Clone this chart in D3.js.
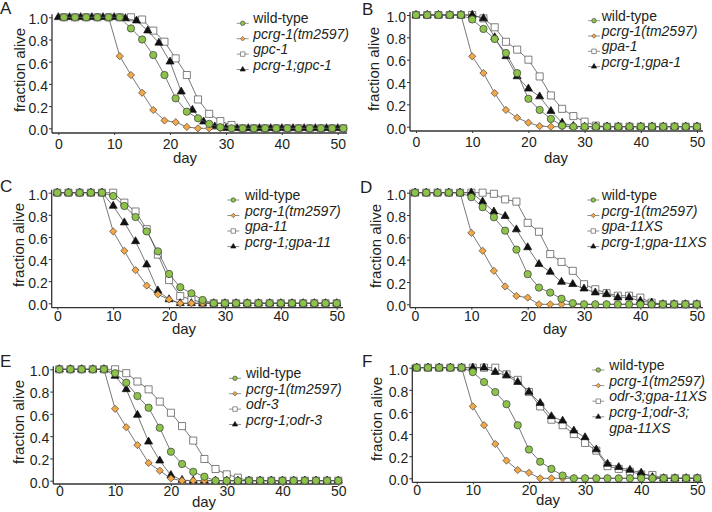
<!DOCTYPE html>
<html>
<head>
<meta charset="utf-8">
<script src="https://cdnjs.cloudflare.com/ajax/libs/d3/7.8.5/d3.min.js"></script>
<style>
  body { margin: 0; background: #fff; }
  text { font-family: "Liberation Sans", Arial, sans-serif; fill: #231f20; }
</style>
</head>
<body>
<div class="chart"></div>
<script>
var svgWidth = 712;
var svgHeight = 512;

// scoring days
var evenDays = [0,2,4,6,8,10,12,14,16,18,20,22,24,26,28,30,32,34,36,38,40,42,44,46,48,50];
var oddDays = [1,3,5,7,9,11,13,15,17,19,21,23,25,27,29,31,33,35,37,39,41,43,45,47,49,51];

var xTicks = [0, 10, 20, 30, 40, 50];
var yTicks = [0, 0.2, 0.4, 0.6, 0.8, 1.0];

// legend labels
var labelsA = ["wild-type", "pcrg-1(tm2597)", "gpc-1", "pcrg-1;gpc-1"];
var labelsB = ["wild-type", "pcrg-1(tm2597)", "gpa-1", "pcrg-1;gpa-1"];
var labelsC = ["wild-type", "pcrg-1(tm2597)", "gpa-11", "pcrg-1;gpa-11"];
var labelsD = ["wild-type", "pcrg-1(tm2597)", "gpa-11XS", "pcrg-1;gpa-11XS"];
var labelsE = ["wild-type", "pcrg-1(tm2597)", "odr-3", "pcrg-1;odr-3"];
var labelsF = ["wild-type", "pcrg-1(tm2597)", "odr-3;gpa-11XS", "pcrg-1;odr-3;|gpa-11XS"];

// fraction alive, panel A (first three on odd days, double mutant on even days)
var wildA = [1,1,1,1,1,1,0.9,0.8,0.66,0.48,0.27,0.15,0.09,0.04,0.01,0,0,0,0,0,0,0,0,0,0,0];
var mutA = [1,1,1,1,1,0.65,0.48,0.32,0.165,0.07,0.055,0.012,0,0,0,0,0,0,0,0,0,0,0,0,0,0];
var singleA = [1,1,1,1,1,1,1,0.98,0.88,0.78,0.63,0.48,0.26,0.13,0.065,0.03,0,0,0,0,0,0,0,0,0,0];
var doubleA = [1,1,1,1,1,1,0.99,0.97,0.88,0.77,0.6,0.33,0.165,0.06,0.015,0,0,0,0,0,0,0,0,0,0,0];

// panel B
var wildB = [1,1,1,1,1,0.96,0.875,0.785,0.66,0.48,0.25,0.15,0.07,0.01,0,0,0,0,0,0,0,0,0,0,0,0];
var mutB = [1,1,1,1,1,0.63,0.48,0.3,0.15,0.08,0.036,0.005,0,0,0,0,0,0,0,0,0,0,0,0,0,0];
var singleB = [1,1,1,1,1,1,0.97,0.89,0.76,0.69,0.6,0.45,0.28,0.16,0.095,0.045,0.01,0,0,0,0,0,0,0,0,0];
var doubleB = [1,1,1,1,1,1,0.97,0.8,0.63,0.45,0.34,0.27,0.14,0.035,0.006,0,0,0,0,0,0,0,0,0,0,0];

// panel C
var wildC = [1,1,1,1,1,0.97,0.88,0.78,0.65,0.47,0.265,0.145,0.09,0.03,0,0,0,0,0,0,0,0,0,0,0,0];
var mutC = [1,1,1,1,1,0.65,0.475,0.3,0.16,0.08,0.035,0,0,0,0,0,0,0,0,0,0,0,0,0,0,0];
var singleC = [1,1,1,1,1,1,0.91,0.83,0.67,0.44,0.21,0.065,0.035,0.005,0,0,0,0,0,0,0,0,0,0,0,0];
var doubleC = [1,1,1,1,1,0.88,0.73,0.56,0.35,0.115,0.035,0,0,0,0,0,0,0,0,0,0,0,0,0,0,0];

// panel D
var wildD = [1,1,1,1,1,0.96,0.87,0.78,0.66,0.49,0.27,0.15,0.105,0.05,0.01,0,0,0,0,0,0,0,0,0,0,0];
var mutD = [1,1,1,1,1,0.64,0.48,0.3,0.16,0.075,0.06,0,0,0,0,0,0,0,0,0,0,0,0,0,0,0];
var singleD = [1,1,1,1,1,1,1,0.99,0.94,0.92,0.73,0.65,0.45,0.38,0.3,0.18,0.135,0.1,0.077,0.077,0.06,0.015,0,0,0,0];
var doubleD = [1,1,1,1,1,1,0.92,0.83,0.79,0.67,0.51,0.36,0.29,0.2,0.18,0.14,0.105,0.09,0.06,0.06,0.03,0.015,0,0,0,0];

// panel E
var wildE = [1,1,1,1,1,0.965,0.88,0.76,0.655,0.475,0.26,0.15,0.08,0.036,0,0,0,0,0,0,0,0,0,0,0,0];
var mutE = [1,1,1,1,1,0.645,0.48,0.32,0.16,0.09,0.02,0,0,0,0,0,0,0,0,0,0,0,0,0,0,0];
var singleE = [1,1,1,1,1,1,0.965,0.89,0.82,0.71,0.61,0.49,0.36,0.195,0.105,0.057,0.027,0,0,0,0,0,0,0,0,0];
var doubleE = [1,1,1,1,1,0.94,0.82,0.59,0.35,0.18,0.05,0.006,0,0,0,0,0,0,0,0,0,0,0,0,0,0];

// panel F
var wildF = [1,1,1,1,1,0.96,0.87,0.78,0.67,0.48,0.26,0.15,0.085,0.025,0,0,0,0,0,0,0,0,0,0,0,0];
var mutF = [1,1,1,1,1,0.65,0.48,0.31,0.16,0.075,0.05,0,0,0,0,0,0,0,0,0,0,0,0,0,0,0];
var singleF = [1,1,1,1,1,1,1,1,0.94,0.89,0.78,0.65,0.53,0.48,0.4,0.32,0.25,0.11,0.085,0.06,0.035,0.03,0,0,0,0];
var doubleF = [1,1,1,1,1,1,1,0.96,0.93,0.87,0.78,0.68,0.56,0.52,0.43,0.37,0.26,0.13,0.1,0.075,0.05,0.01,0,0,0,0];

//-------- panel layout (pixels) -------------------------
var panels = [
  { id: "A", labels: labelsA, days: [oddDays, oddDays, oddDays, evenDays], values: [wildA, mutA, singleA, doubleA],
    x0: 58.3, x50: 337.7, yZero: 128.3, yOne: 17.3, axisX: 52, axisY: 133, axisEnd: 347, xPad: 4,
    letter: [0, 14], title: [20, 70], day: [185, 163], legend: [242.7, 253.3, 23.3, 15.4] },
  { id: "B", labels: labelsB, days: [evenDays, evenDays, evenDays, evenDays], values: [wildB, mutB, singleB, doubleB],
    x0: 416, x50: 697, yZero: 126.7, yOne: 15, axisX: 410, axisY: 131, axisEnd: 703, xPad: 4,
    letter: [362, 15], title: [374, 69], day: [556, 163], legend: [594, 601.7, 20.7, 15.3] },
  { id: "C", labels: labelsC, days: [evenDays, evenDays, evenDays, evenDays], values: [wildC, mutC, singleC, doubleC],
    x0: 57.3, x50: 336.7, yZero: 303.3, yOne: 192.7, axisX: 51.7, axisY: 307.7, axisEnd: 343, xPad: 1.5,
    letter: [0, 192], title: [19, 245], day: [184, 334], legend: [233.3, 245, 200, 15.5] },
  { id: "D", labels: labelsD, days: [evenDays, evenDays, evenDays, evenDays], values: [wildD, mutD, singleD, doubleD],
    x0: 415, x50: 696.7, yZero: 304.3, yOne: 192.7, axisX: 410, axisY: 307.7, axisEnd: 703, xPad: 1.5,
    letter: [360, 193], title: [376, 246], day: [555, 334], legend: [593.3, 601.7, 200, 15.5] },
  { id: "E", labels: labelsE, days: [evenDays, evenDays, evenDays, evenDays], values: [wildE, mutE, singleE, doubleE],
    x0: 59.3, x50: 338.3, yZero: 480.7, yOne: 369.3, axisX: 53.3, axisY: 484, axisEnd: 340, xPad: 0.5,
    letter: [0, 367], title: [19, 422], day: [204, 507], legend: [235, 246, 378.3, 15.4] },
  { id: "F", labels: labelsF, days: [evenDays, evenDays, evenDays, evenDays], values: [wildF, mutF, singleF, doubleF],
    x0: 416.7, x50: 697.3, yZero: 478.3, yOne: 367.7, axisX: 412.3, axisY: 482.3, axisEnd: 703, xPad: 0.5,
    letter: [362, 367], title: [377, 419], day: [548, 505], legend: [598.3, 609.3, 370, 15.6] }
];

// marker styles: wild-type, pcrg-1, single, double
var styles = [
  { type: d3.symbolCircle, size: 42, legendSize: 16, fill: "#8dc34a", stroke: "#3a3a3a", rotate: 0 },
  { type: d3.symbolSquare, size: 26, legendSize: 10, fill: "#f0a848", stroke: "#5a4a3a", rotate: 45 },
  { type: d3.symbolSquare, size: 50, legendSize: 20, fill: "#ffffff", stroke: "#4a4a4a", rotate: 0 },
  { type: d3.symbolTriangle, size: 28, legendSize: 12, fill: "#111111", stroke: "#111111", rotate: 0 }
];
var drawOrder = [2, 3, 1, 0];

var svg = d3
  .select(".chart")
  .append("svg")
  .attr("width", svgWidth)
  .attr("height", svgHeight);

panels.forEach(function(p) {
  var g = svg.append("g");

  var xScale = d3.scaleLinear().domain([0, 50]).range([p.x0, p.x50]);
  var yScale = d3.scaleLinear().domain([0, 1]).range([p.yZero, p.yOne]);

  //------------- axes ----------------------
  var bottomAxis = d3.axisBottom(xScale)
    .tickValues(xTicks)
    .tickSize(2)
    .tickSizeOuter(0)
    .tickPadding(p.xPad);
  var xAxis = g.append("g")
    .attr("transform", `translate(0, ${p.axisY})`)
    .style("color", "#333")
    .call(bottomAxis);
  xAxis.select(".domain").remove();
  xAxis.selectAll("text")
    .attr("font-size", 14)
    .attr("font-family", "Liberation Sans, Arial, sans-serif");

  var leftAxis = d3.axisLeft(yScale)
    .tickValues(yTicks)
    .tickFormat(d3.format(".1f"))
    .tickSize(3)
    .tickSizeOuter(0)
    .tickPadding(1);
  var yAxis = g.append("g")
    .attr("transform", `translate(${p.axisX}, 0)`)
    .style("color", "#333")
    .call(leftAxis);
  yAxis.select(".domain").remove();
  yAxis.selectAll("text")
    .attr("font-size", 14)
    .attr("dy", "0.45em")
    .attr("font-family", "Liberation Sans, Arial, sans-serif");

  g.append("line")
    .attr("x1", p.axisX).attr("x2", p.axisEnd)
    .attr("y1", p.axisY).attr("y2", p.axisY)
    .attr("stroke", "#333").attr("stroke-width", 1.3);
  g.append("line")
    .attr("x1", p.axisX).attr("x2", p.axisX)
    .attr("y1", yScale(1) - 3).attr("y2", p.axisY)
    .attr("stroke", "#333").attr("stroke-width", 1.3);

  //------------- labels ----------------------
  g.append("text")
    .attr("x", p.letter[0]).attr("y", p.letter[1])
    .attr("font-size", 17)
    .text(p.id);

  g.append("text")
    .attr("transform", `translate(${p.title[0]}, ${p.title[1]}) rotate(-90)`)
    .attr("text-anchor", "middle")
    .attr("dy", "0.35em")
    .attr("font-size", 15)
    .text("fraction alive");

  g.append("text")
    .attr("x", p.day[0]).attr("y", p.day[1])
    .attr("text-anchor", "middle")
    .attr("font-size", 15)
    .text("day");

  //------------- survival curves ----------------------
  var line = d3.line()
    .x(d => xScale(d[0]))
    .y(d => yScale(d[1]));

  drawOrder.forEach(function(k) {
    var pts = p.days[k].map((day, i) => [day, p.values[k][i]]);
    var st = styles[k];
    g.append("path")
      .datum(pts)
      .attr("d", line)
      .attr("fill", "none")
      .attr("stroke", "#555")
      .attr("stroke-width", 0.8);
    g.selectAll(null)
      .data(pts)
      .enter()
      .append("path")
      .attr("d", d3.symbol().type(st.type).size(st.size))
      .attr("transform", d => `translate(${xScale(d[0])}, ${yScale(d[1])}) rotate(${st.rotate})`)
      .attr("fill", st.fill)
      .attr("stroke", st.stroke)
      .attr("stroke-width", 0.7);
  });

  //------------- legend ----------------------
  var lg = p.legend;
  p.labels.forEach(function(label, k) {
    var y = lg[2] + k * lg[3];
    var st = styles[k];
    g.append("line")
      .attr("x1", lg[0] - 6).attr("x2", lg[0] + 6)
      .attr("y1", y).attr("y2", y)
      .attr("stroke", "#777").attr("stroke-width", 0.8);
    g.append("path")
      .attr("d", d3.symbol().type(st.type).size(st.legendSize))
      .attr("transform", `translate(${lg[0]}, ${y}) rotate(${st.rotate})`)
      .attr("fill", st.fill)
      .attr("stroke", st.stroke)
      .attr("stroke-width", 0.6);
    var parts = label.split("|");
    var t = g.append("text")
      .attr("x", lg[1]).attr("y", y)
      .attr("dy", "0.35em")
      .attr("font-size", 14)
      .attr("font-style", k === 0 ? "normal" : "italic");
    parts.forEach(function(s, j) {
      t.append("tspan")
        .attr("x", lg[1])
        .attr("dy", j === 0 ? 0 : lg[3] + 1)
        .text(s);
    });
  });
});
</script>
</body>
</html>
